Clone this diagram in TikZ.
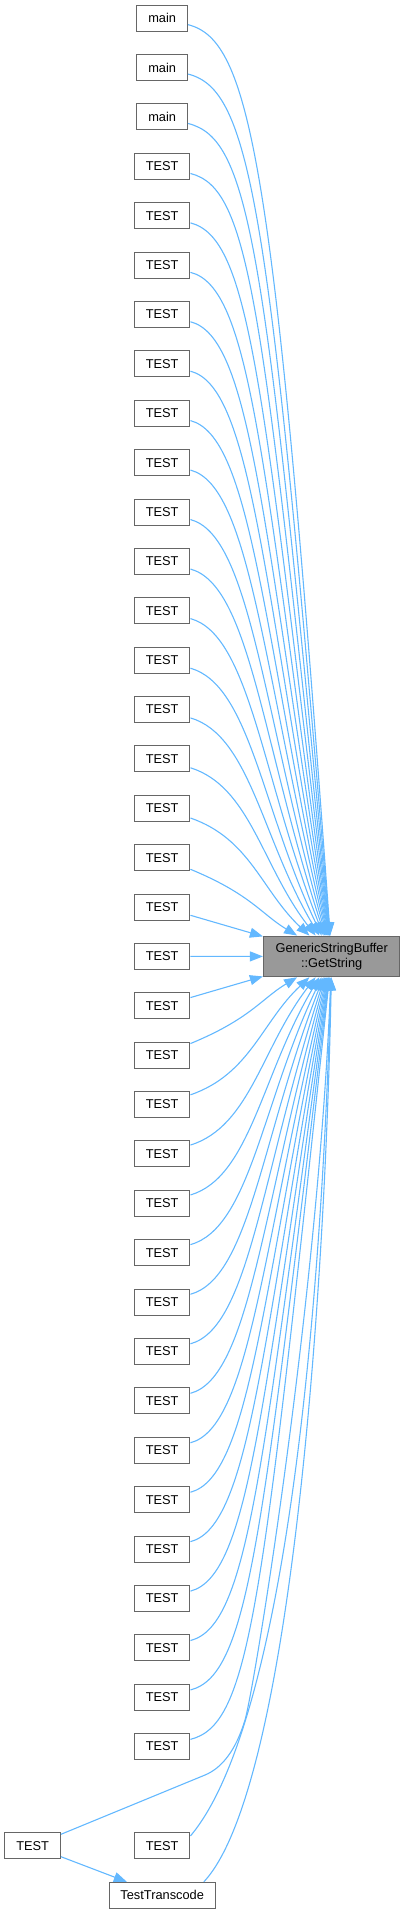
\documentclass[tikz,border=0pt]{standalone}
\usepackage{fontspec}
\setmainfont{Liberation Sans}
\usepackage{tikz}
\usetikzlibrary{arrows.meta}

\definecolor{callblue}{HTML}{63B8FF}
\definecolor{boxline}{HTML}{666666}
\definecolor{boxfill}{HTML}{999999}

\tikzset{
  fnbox/.style={draw=boxline, fill=white, line width=1pt, inner xsep=11.4pt, inner ysep=0pt, minimum height=26pt, font=\fontsize{12.8}{15}\selectfont},
  callee/.style={fnbox, fill=boxfill, align=center, inner xsep=12.2pt, minimum height=40.7pt},
  call/.style={draw=callblue, line width=1.1pt, -{Triangle[length=13pt,width=10pt]}},
}

\begin{document}
\begin{tikzpicture}[x=1pt, y=-1pt]
\useasboundingbox (0,0) rectangle (405,1914);
% Fonction appelée
\node[callee] (gs) at (331.7,956.4) {GenericStringBuffer\\::GetString};
% Appelants, une ligne tous les 49.38
\foreach \k in {0,1,2}
  \node[fnbox] (r\k) at (162.2,{18.2+49.38*\k}) {main};
\foreach \k in {3,...,35}
  \node[fnbox] (r\k) at (162.2,{18.2+49.38*\k}) {TEST};
\node[fnbox] (r37) at (162.2,1845.9) {TEST};
\node[fnbox] (lt) at (32.7,1845.9) {TEST};
\node[fnbox] (tt) at (162.2,1895.3) {TestTranscode};

% Appels du haut
\foreach \k in {0,...,17} {
  \pgfmathsetmacro{\gap}{19-\k}
  \pgfmathsetmacro{\dist}{956.4-(18.2+49.38*\k)}
  \pgfmathsetmacro{\bend}{3.5*(6+10/(\gap^1.2))}
  \pgfmathsetmacro{\slope}{(71/\gap-2.3)/20}
  \pgfmathsetmacro{\reach}{min(0.85*\dist,70/\slope)}
  \draw[call] (r\k) .. controls +(88,\bend) and +({-\slope*\reach},{-\reach}) .. (gs);
}
% Appels directs
\draw[call] (r18) -- (gs);
\draw[call] (r19) -- (gs);
\draw[call] (r20) -- (gs);
% Appels du bas
\foreach \k in {21,...,35} {
  \pgfmathsetmacro{\gap}{\k-19}
  \pgfmathsetmacro{\dist}{(18.2+49.38*\k)-956.4}
  \pgfmathsetmacro{\bend}{3.5*(6+10/(\gap^1.2))}
  \pgfmathsetmacro{\slope}{(71/\gap-2.3)/20}
  \pgfmathsetmacro{\reach}{min(0.85*\dist,70/\slope)}
  \draw[call] (r\k) .. controls +(88,-\bend) and +({-\slope*\reach},\reach) .. (gs);
}
% Derniers appelants
\draw[call] ([yshift=10pt]r37.east) .. controls (280,1730) and (320,1350) .. (gs);
\draw[call] ([xshift=-12pt]tt.north east) .. controls (290,1790) and (325,1300) .. (gs);
\draw[call] (lt) -- (205,1775) .. controls (222,1768) and (236,1750) .. (245,1720)
  .. controls (254,1690) and (318,1300) .. (gs);
\draw[call] (lt) -- (tt);
\end{tikzpicture}
\end{document}
